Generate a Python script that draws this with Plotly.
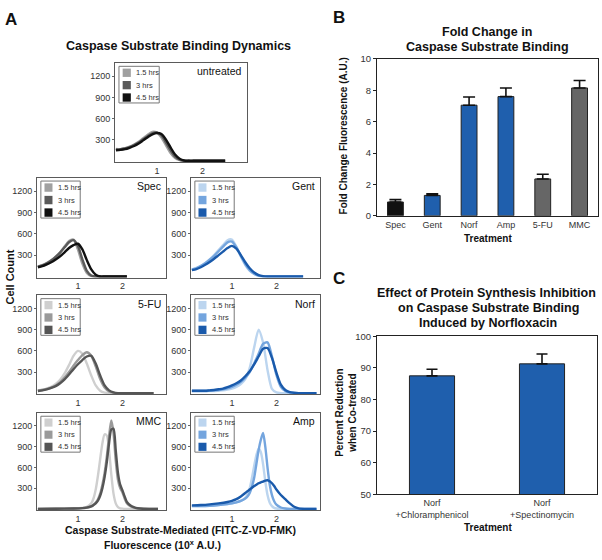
import plotly.graph_objects as go

W, H = 602, 560
FONT = "Arial, 'Liberation Sans', Helvetica, sans-serif"

# ---------------- Panel A data (histograms) ----------------
hour_labels = ["1.5 hrs", "3 hrs", "4.5 hrs"]

untreated_x = [round(0.1 * i, 2) for i in range(1, 26)]
untreated_15 = [170, 165, 180, 200, 230, 270, 320, 370, 410, 400, 330, 220, 110, 40, 10] + [0] * 10
untreated_3 = [160, 165, 175, 195, 225, 260, 305, 350, 390, 400, 360, 260, 150, 60, 15] + [0] * 10
untreated_45 = [150, 155, 165, 185, 210, 245, 290, 335, 375, 395, 380, 300, 190, 90, 30, 5] + [0] * 9

spec_x = [round(0.1 * i, 2) for i in range(1, 22)]
spec_15 = [140, 160, 190, 230, 280, 340, 420, 500, 520, 380, 180, 50, 5] + [0] * 8
spec_3 = [135, 155, 185, 225, 275, 335, 410, 480, 510, 430, 240, 80, 15] + [0] * 8
spec_45 = [130, 145, 170, 200, 240, 285, 340, 400, 440, 460, 380, 230, 100, 25] + [0] * 7

gent_x = [round(0.1 * i, 2) for i in range(1, 27)]
gent_15 = [100, 120, 150, 190, 240, 300, 370, 440, 510, 520, 420, 280, 160, 80, 35, 10] + [0] * 10
gent_3 = [95, 115, 145, 185, 235, 290, 355, 420, 480, 490, 410, 290, 175, 90, 40, 12] + [0] * 10
gent_45 = [90, 105, 130, 165, 205, 250, 300, 350, 400, 430, 390, 300, 200, 115, 55, 20, 5] + [0] * 9

fu_x = [round(0.1 * i, 2) for i in range(1, 28)]
fu_15 = [40, 50, 65, 90, 130, 190, 280, 400, 530, 600, 560, 420, 250, 110, 35, 8] + [0] * 11
fu_3 = [35, 45, 60, 80, 110, 155, 220, 300, 390, 470, 540, 580, 530, 380, 200, 80, 25, 5] + [0] * 9
fu_45 = [30, 40, 55, 75, 100, 140, 195, 265, 340, 410, 470, 520, 530, 420, 250, 110, 40, 10] + [0] * 9

norf_x = [round(0.1 * i, 2) for i in range(1, 30)]
norf_15 = [30, 30, 30, 30, 30, 30, 35, 40, 50, 65, 90, 130, 200, 360, 650, 900, 720, 330, 60, 10] + [0] * 9
norf_3 = [30, 30, 30, 30, 35, 40, 45, 55, 70, 90, 120, 160, 220, 300, 420, 560, 700, 720, 520, 260, 90, 30, 8] + [0] * 6
norf_45 = [35, 35, 35, 35, 40, 45, 55, 65, 85, 110, 140, 180, 240, 310, 410, 520, 630, 640, 500, 290, 120, 45, 15, 5] + [0] * 5

mmc_x = [0.1, 0.5, 0.9, 1.1, 1.2, 1.3, 1.35, 1.4, 1.45, 1.5, 1.55, 1.6, 1.65, 1.7, 1.75, 1.8,
         1.85, 1.9, 1.95, 2.0, 2.05, 2.1, 2.2, 2.3, 2.4, 2.6, 2.8]
mmc_15 = [0, 2, 5, 15, 30, 80, 150, 280, 480, 720, 950, 1080, 1060, 850, 500, 220, 80, 25, 8, 3, 0, 0, 0, 0, 0, 0, 0]
mmc_3 = [0, 2, 5, 10, 20, 40, 60, 90, 140, 220, 350, 520, 760, 1050, 1280, 1100, 700, 420, 300, 240, 150, 80, 30, 10, 3, 0, 0]
mmc_45 = [0, 2, 5, 10, 18, 35, 55, 80, 120, 190, 300, 460, 680, 950, 1150, 1160, 850, 520, 350, 270, 180, 100, 40, 15, 5, 0, 0]

amp_x = [0.1, 0.3, 0.5, 0.7, 0.9, 1.0, 1.1, 1.2, 1.3, 1.35, 1.4, 1.45, 1.5, 1.55, 1.6, 1.65, 1.7, 1.75,
         1.8, 1.85, 1.9, 1.95, 2.0, 2.1, 2.2, 2.3, 2.4, 2.5, 2.7, 2.9]
amp_15 = [40, 40, 45, 55, 70, 80, 95, 115, 160, 210, 300, 450, 620, 780, 870, 820, 650, 400, 200, 90, 40, 15, 5, 0, 0, 0, 0, 0, 0, 0]
amp_3 = [40, 40, 45, 55, 70, 80, 95, 115, 150, 180, 230, 320, 450, 650, 850, 1000, 1100, 900, 600, 350, 200, 110, 60, 20, 5, 0, 0, 0, 0, 0]
amp_45 = [50, 55, 65, 80, 100, 115, 140, 180, 230, 255, 280, 305, 330, 350, 370, 385, 395, 410, 415, 400, 370, 330, 280, 200, 140, 80, 30, 8, 0, 0]

hist_yticks = [300, 600, 900, 1200]
hist_xticks = [1, 2]

# ---------------- Panel B data ----------------
b_treatments = ["Spec", "Gent", "Norf", "Amp", "5-FU", "MMC"]
b_fold = [0.88, 1.3, 7.05, 7.6, 2.35, 8.15]
b_err = [0.15, 0.1, 0.52, 0.55, 0.3, 0.48]

# ---------------- Panel C data ----------------
c_treatments = ["Norf<br>+Chloramphenicol", "Norf<br>+Spectinomycin"]
c_reduction = [87.5, 91.3]
c_err = [2.1, 3.1]

# ---------------- styling ----------------
GRAY_A = ["#a0a0a0", "#5a5a5a", "#111111"]
GRAY_B = ["#cfcfcf", "#9a9a9a", "#555555"]
BLUE = ["#bcd5ef", "#74a5de", "#1a5aab"]
BAR_BLUE = "#1f5fad"
BAR_GRAY = "#666666"
BAR_BLACK = "#111111"


def px_x(a, b):
    return [a / W, b / W]


def px_y(top, bottom):
    return [1 - bottom / H, 1 - top / H]


panels = [
    ("untreated", untreated_x, [untreated_15, untreated_3, untreated_45], GRAY_A, (115, 247, 58, 159)),
    ("Spec", spec_x, [spec_15, spec_3, spec_45], GRAY_A, (37, 166, 175, 277)),
    ("Gent", gent_x, [gent_15, gent_3, gent_45], BLUE, (191, 320, 175, 277)),
    ("5-FU", fu_x, [fu_15, fu_3, fu_45], GRAY_B, (37, 166, 295, 396)),
    ("Norf", norf_x, [norf_15, norf_3, norf_45], BLUE, (191, 320, 295, 396)),
    ("MMC", mmc_x, [mmc_15, mmc_3, mmc_45], GRAY_B, (37, 166, 415, 514)),
    ("Amp", amp_x, [amp_15, amp_3, amp_45], BLUE, (191, 320, 415, 514)),
]

fig = go.Figure()
layout = dict(
    width=W, height=H, margin=dict(l=0, r=0, t=0, b=0),
    paper_bgcolor="white", plot_bgcolor="white",
    showlegend=False, font=dict(family=FONT, color="#222"),
)
shapes = []
annotations = []


def ann(text, x, y, size, bold=True, angle=0, xanchor="center", color="#111"):
    annotations.append(dict(
        text=f"<b>{text}</b>" if bold else text,
        x=x / W, y=1 - y / H, xref="paper", yref="paper",
        xanchor=xanchor, yanchor="middle", showarrow=False, textangle=angle,
        font=dict(size=size, color=color, family=FONT),
    ))


for i, (name, xs, ys_list, colors, box) in enumerate(panels, start=1):
    sfx = "" if i == 1 else str(i)
    xa, ya = "x" + sfx, "y" + sfx
    for ys, col in zip(ys_list, colors):
        fig.add_trace(go.Scatter(
            x=xs, y=ys, mode="lines", xaxis=xa, yaxis=ya,
            line=dict(color=col, width=2.4, shape="spline", smoothing=0.7),
            hoverinfo="skip",
        ))
    l, r, t, b = box
    layout["xaxis" + sfx] = dict(
        domain=px_x(l, r), anchor=ya, range=[0.08, 2.98], tickvals=hist_xticks,
        showgrid=False, zeroline=False, showline=True, mirror=True,
        linecolor="#5a5a5a", linewidth=1, ticks="",
        tickfont=dict(size=9, color="#333"),
    )
    layout["yaxis" + sfx] = dict(
        domain=px_y(t, b), anchor=xa, range=[-15, 1390], tickvals=hist_yticks,
        showgrid=False, zeroline=False, showline=True, mirror=True,
        linecolor="#5a5a5a", linewidth=1, ticks="outside", ticklen=2, tickcolor="#666",
        tickfont=dict(size=9, color="#333"),
    )
    dref_x, dref_y = xa + " domain", ya + " domain"
    shapes.append(dict(type="rect", xref=dref_x, yref=dref_y, x0=0.03, x1=0.335, y0=0.595, y1=0.965,
                       line=dict(color="#777", width=1), fillcolor="white", layer="above"))
    for k, (lab, col) in enumerate(zip(hour_labels, colors)):
        yc = [0.90, 0.775, 0.65][k]
        shapes.append(dict(type="rect", xref=dref_x, yref=dref_y, x0=0.058, x1=0.12,
                           y0=yc - 0.042, y1=yc + 0.042, line=dict(width=0), fillcolor=col, layer="above"))
        annotations.append(dict(text=lab, xref=dref_x, yref=dref_y, x=0.145, y=yc,
                                xanchor="left", yanchor="middle", showarrow=False,
                                font=dict(size=7.5, color="#333", family=FONT)))
    annotations.append(dict(text=name, xref=dref_x, yref=dref_y, x=0.975, y=0.915,
                            xanchor="right", yanchor="middle", showarrow=False,
                            font=dict(size=10.5, color="#111", family=FONT)))

# Panel B bars
fig.add_trace(go.Bar(
    x=b_treatments, y=b_fold, xaxis="x8", yaxis="y8", width=0.43,
    marker=dict(color=[BAR_BLACK, BAR_BLUE, BAR_BLUE, BAR_BLUE, BAR_GRAY, BAR_GRAY],
                line=dict(color="#222", width=1)),
    error_y=dict(type="data", array=b_err, arrayminus=[0] * len(b_err), symmetric=False,
                 color="#111", thickness=1.6, width=6),
    hoverinfo="skip",
))
layout["xaxis8"] = dict(domain=px_x(377, 598), anchor="y8", showgrid=False, zeroline=False,
                        showline=True, mirror=True, linecolor="#222", linewidth=1, ticks="",
                        tickfont=dict(size=9, color="#333"))
layout["yaxis8"] = dict(domain=px_y(54, 214), anchor="x8", range=[0, 10], tickvals=[0, 2, 4, 6, 8, 10],
                        showgrid=False, zeroline=False, showline=True, mirror=True,
                        linecolor="#222", linewidth=1, ticks="outside", ticklen=3, tickcolor="#222",
                        tickfont=dict(size=9.5, color="#333"))

# Panel C bars
fig.add_trace(go.Bar(
    x=c_treatments, y=c_reduction, xaxis="x9", yaxis="y9", width=0.41,
    marker=dict(color=BAR_BLUE, line=dict(color="#222", width=1)),
    error_y=dict(type="data", array=c_err, arrayminus=[0] * len(c_err), symmetric=False,
                 color="#111", thickness=1.6, width=5.5),
    hoverinfo="skip",
))
layout["xaxis9"] = dict(domain=px_x(377, 597), anchor="y9", showgrid=False, zeroline=False,
                        showline=True, mirror=True, linecolor="#222", linewidth=1, ticks="",
                        tickfont=dict(size=9, color="#333"))
layout["yaxis9"] = dict(domain=px_y(337, 498), anchor="x9", range=[50, 100],
                        tickvals=[50, 60, 70, 80, 90, 100],
                        showgrid=False, zeroline=False, showline=True, mirror=True,
                        linecolor="#222", linewidth=1, ticks="outside", ticklen=3, tickcolor="#222",
                        tickfont=dict(size=9.5, color="#333"))

# Texts
ann("A", 11, 14, 17)
ann("B", 339, 12, 17)
ann("C", 339, 278, 17)
ann("Caspase Substrate Binding Dynamics", 178, 41, 12.5)
ann("Cell Count", 10, 277, 11, angle=-90)
ann("Caspase Substrate-Mediated (FITC-Z-VD-FMK)", 180, 535, 10.5)
ann("Fluorescence (10<sup>x</sup> A.U.)", 162, 549, 10.5)
ann("Fold Change in", 487, 27, 12.5)
ann("Caspase Substrate Binding", 487, 42, 12.5)
ann("Fold Change Fluorescence (A.U.)", 343, 133, 10, angle=-90)
ann("Treatment", 488, 237, 10)
ann("Effect of Protein Synthesis Inhibition", 486, 293, 12.5)
ann("on Caspase Substrate Binding", 488, 308, 12.5)
ann("Induced by Norfloxacin", 488, 323, 12.5)
ann("Percent Reduction<br>when Co-treated", 346, 415, 10, angle=-90)
ann("Treatment", 488, 532, 10)

layout["shapes"] = shapes
layout["annotations"] = annotations
fig.update_layout(**layout)
fig.write_html("out.html", config={"displayModeBar": False},
               post_script="document.body.style.margin='0px';")
